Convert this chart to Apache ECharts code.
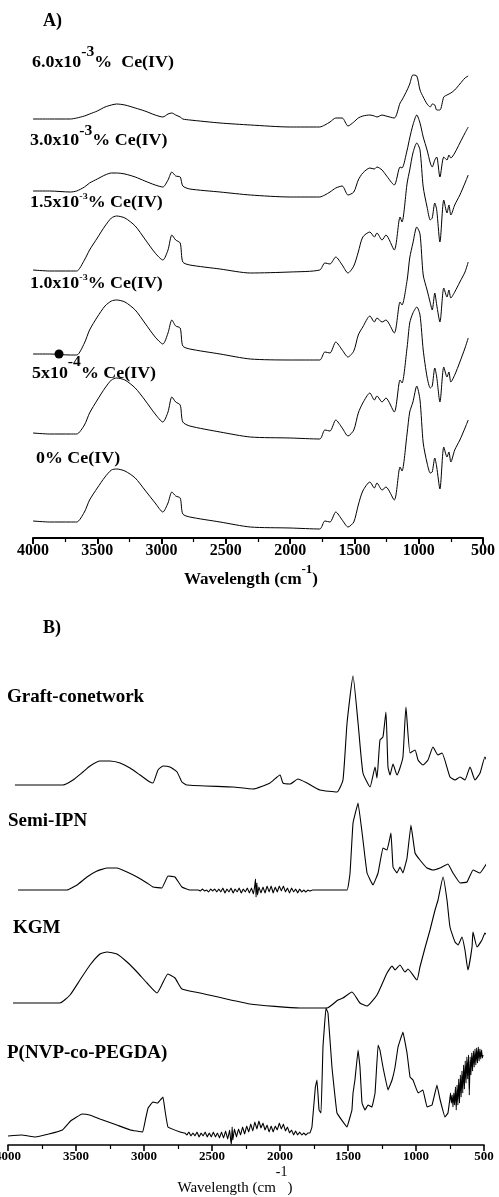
<!DOCTYPE html>
<html>
<head>
<meta charset="utf-8">
<script src="https://cdn.jsdelivr.net/npm/echarts@6/dist/echarts.min.js"></script>
<style>
  html, body { margin: 0; padding: 0; background: #fff; }
  #chart { width: 499px; height: 1197px; }
</style>
</head>
<body>
<div id="chart"></div>
<script>
// ---- panel A : FTIR spectra vs Ce(IV) content (stacked, arbitrary units) ----
var waveA = [4000,3870,3710,3660,3600,3560,3500,3440,3390,3350,3285,3205,3130,3050,2990,2950,2920,2890,2855,2835,
  2780,2545,2310,2000,1770,1730,1690,1645,1595,1550,1505,1470,1435,1380,1345,1325,1285,1255,1190,1145,
  1130,1090,1070,1045,1015,990,965,935,910,895,875,860,835,805,780,765,750,720,680,640,615];
var ce0 = [17,16,16,16,26,38,50,61,68,69,67,60,48,35,26,35,46,42,40,24,
  21,16,11,10,9,17,16,26,18,11,16,33,47,56,50,55,48,51,38,71,
  67,105,126,136,152,138,95,75,65,66,80,71,49,91,81,86,76,88,98,110,118];
var ce5e4 = [105,104,104,104,113,125,138,150,158,160,158,150,138,124,116,126,141,136,133,116,
  112,106,101,100,99,108,107,118,110,102,108,125,135,145,138,142,136,140,126,158,
  155,191,215,225,231,223,188,161,150,152,170,161,136,171,161,166,156,163,176,190,200];
var ce1e3 = [184,184,183,183,195,208,221,232,237,238,236,228,215,201,194,205,218,212,210,192,
  189,184,179,178,178,186,185,196,188,181,187,203,211,222,216,220,216,218,205,236,
  233,258,280,295,311,304,263,248,235,228,245,233,216,250,241,248,240,246,256,266,276];
var ce15e3 = [268,267,267,267,278,288,300,312,320,322,320,312,299,285,278,288,303,298,295,276,
  273,269,265,266,268,275,274,281,273,265,272,286,301,306,301,305,298,303,288,321,
  316,355,368,385,395,388,351,331,318,320,335,328,296,338,325,333,323,333,343,355,363];
var ce3e3 = [347,347,346,347,351,355,359,363,365,365,364,361,357,353,351,358,366,362,361,352,
  349,346,343,341,341,343,346,350,352,343,346,358,365,370,369,371,368,363,353,371,
  370,388,400,413,423,415,401,388,375,371,378,381,361,381,378,383,380,385,395,405,411];
var ce6e3 = [419,419,419,420,422,424,427,431,433,434,433,430,427,423,421,424,425,423,421,419,
  418,415,413,411,411,413,416,420,420,412,416,420,422,423,422,421,423,422,420,435,
  438,448,454,463,462,448,441,434,431,434,433,428,428,441,443,444,445,448,454,460,462];

// ---- panel B : FTIR spectra of the materials ----
var graftWave = [3949,3596,3522,3449,3397,3324,3250,3176,3103,3029,2956,2934,2897,2860,2809,2757,2721,2684,2346,2199,
  2074,2000,1978,1926,1868,1801,1706,1581,1537,1507,1463,1426,1390,1338,1301,1287,1265,1243,1221,1206,
  1191,1169,1140,1118,1096,1074,1044,1007,985,949,912,875,838,809,750,713,676,640,603,566,529,493,471];
var graftVal = [360,360,365,373,379,384,384,382,377,370,363,362,375,379,378,373,363,360,358,356,
  362,370,362,361,366,362,355,353,365,422,469,422,372,358,378,367,405,408,433,378,
  370,381,370,377,388,438,392,395,385,380,385,398,390,392,368,365,368,365,378,365,372,388,382];

var semiWave = [3926,3566,3493,3419,3346,3272,3199,3125,3051,2978,2934,2868,2824,2772,2721,2662,
  2600,2585,2570,2555,2540,2525,2510,2495,2480,2465,2450,2435,2420,2405,2390,2375,2360,2345,2330,2315,
  2300,2285,2270,2255,2240,2225,2210,2195,2185,2180,2176,2170,2165,2155,2140,2125,2110,2095,2080,2065,
  2050,2035,2020,2005,1990,1975,1960,1945,1930,1915,1900,1885,1870,1855,1840,1825,1810,1795,1780,1760,
  1507,1485,1463,1426,1390,1360,1316,1279,1243,1213,1184,1169,1140,1118,1096,1066,1037,1007,971,919,
  875,824,765,728,676,625,581,529,478,434,397];
var semiVal = [255,255,260,268,274,277,277,273,268,262,258,257,269,268,258,255,
  255,254,256,254,255,253,256,254,256,253,256,253,257,252,256,253,257,252,256,253,
  257,252,256,253,257,252,257,251,260,266,248,262,250,258,252,258,252,259,253,259,
  252,258,253,259,254,259,253,257,252,257,253,256,252,256,253,255,253,255,254,255,
  255,272,322,342,305,272,260,272,297,295,312,278,272,278,272,287,320,292,285,277,
  275,277,281,272,262,263,275,272,282,292,305];

var kgmWave = [3963,3618,3544,3471,3397,3324,3272,3199,3125,3051,2978,2904,2824,2772,2721,2588,2221,1853,1654,1574,
  1537,1471,1412,1360,1287,1213,1176,1154,1118,1081,1059,993,971,934,897,860,838,801,772,750,
  713,691,662,640,618,588,581,551,515,493,471];
var kgmVal = [142,142,150,165,180,191,193,191,183,173,162,152,171,167,156,152,141,137,137,145,
  147,153,142,139,150,172,179,175,180,173,176,165,178,197,215,235,245,268,245,218,
  203,200,208,195,175,198,213,198,205,212,208];

var pnvpWave = [4000,3900,3800,3700,3600,3540,3456,3400,3324,3200,3100,3010,2990,2970,2935,2900,2880,2860,2846,2824,
  2735,2700,2685,2670,2655,2640,2625,2610,2595,2580,2565,2550,2535,2520,2505,2490,2475,2460,2445,2430,
  2415,2400,2385,2370,2362,2357,2352,2347,2335,2320,2305,2290,2275,2260,2245,2230,2215,2200,2185,2170,
  2155,2140,2125,2110,2095,2080,2065,2050,2035,2020,2005,1990,1975,1960,1945,1930,1915,1900,1885,1870,
  1855,1840,1825,1810,1795,1780,1765,1740,1728,1713,1698,1684,1662,1647,1618,1581,1507,1485,1471,1463,
  1449,1426,1412,1397,1375,1353,1324,1301,1279,1265,1243,1206,1176,1154,1132,1096,1066,1044,1022,985,
  949,919,882,846,824,787,765,752,746,740,734,728,722,716,710,704,698,692,686,680,
  674,668,662,656,650,644,638,632,626,620,614,608,602,596,590,584,578,572,566,560,
  554,548,542,536,530,524,518,512,507];
var pnvpVal = [9,10,8,11,15,24,31,30,26,20,15,13,25,37,43,42,45,48,35,18,
  13,12,10,13,9,12,9,13,8,12,9,13,8,12,8,13,8,12,7,13,
  7,14,6,15,4,1,18,5,16,8,16,10,18,11,19,13,21,14,23,16,
  24,17,22,15,20,13,19,13,19,15,22,16,21,14,18,12,15,10,14,10,
  13,10,12,10,12,12,18,58,65,35,32,98,137,132,78,32,18,28,35,52,
  65,95,78,42,35,40,38,52,100,95,78,55,65,78,98,113,92,68,65,52,
  55,38,40,60,46,28,32,45,52,42,50,38,52,40,58,35,60,40,66,42,
  70,48,74,52,80,56,84,62,88,66,90,50,88,70,92,74,94,78,96,80,
  97,82,98,84,96,86,95,87,90];

var xTicks = { min: 500, max: 4000, interval: 500 };

function pairs(w, v) {
  var out = [];
  for (var i = 0; i < w.length; i++) out.push([w[i], v[i]]);
  return out;
}

var serif = '"Liberation Serif", "Times New Roman", serif';

function spec(w, v, grid, width, sm) {
  return {
    type: 'line',
    xAxisIndex: grid, yAxisIndex: grid,
    data: pairs(w, v),
    symbol: 'none',
    smooth: sm,
    clip: false,
    lineStyle: { color: '#000', width: width },
    silent: true
  };
}

function xAx(grid, fs, lw) {
  return {
    gridIndex: grid, type: 'value', inverse: true,
    min: xTicks.min, max: xTicks.max, interval: xTicks.interval,
    axisLine: { onZero: false, lineStyle: { color: '#000', width: lw } },
    axisTick: { inside: false, length: 6, lineStyle: { color: '#000', width: lw } },
    minorTick: { show: true, splitNumber: 2, length: 4, lineStyle: { color: '#000', width: 1.2 } },
    splitLine: { show: false },
    axisLabel: {
      color: '#000', fontFamily: serif, fontWeight: 'bold', fontSize: fs, margin: 5,
      formatter: function (v) { return String(v); }
    }
  };
}

// label with raised superscript: parts = [before, sup, after]
function supLabel(x, cy, parts, fs, supFs, raise, bold, align, sx) {
  var h = supFs, L = 2 * raise + h;
  var w = bold ? 'bold' : 'normal';
  return {
    type: 'text', x: x, y: cy - L / 2, scaleX: sx || 1,
    style: {
      text: '{b|' + parts[0] + '}{s|' + parts[1] + '}{b|' + parts[2] + '}',
      align: align || 'left', verticalAlign: 'top',
      rich: {
        b: { fontFamily: serif, fontWeight: w, fontSize: fs, lineHeight: L, fill: '#000', color: '#000' },
        s: { fontFamily: serif, fontWeight: w, fontSize: supFs, lineHeight: h, verticalAlign: 'top', fill: '#000', color: '#000' }
      }
    }
  };
}

function plainLabel(x, cy, txt, fs, sx) {
  return {
    type: 'text', x: x, y: cy - 12, scaleX: sx || 1,
    style: { text: txt, fontFamily: serif, fontWeight: 'bold', fontSize: fs, lineHeight: 24, verticalAlign: 'top', fill: '#000' }
  };
}

var chart = echarts.init(document.getElementById('chart'), null, { renderer: 'canvas' });
chart.setOption({
  animation: false,
  backgroundColor: '#fff',
  grid: [
    { left: 33, right: 16, top: 40, bottom: 659, containLabel: false, outerBoundsMode: 'none' },
    { left: 8, right: 15, top: 640, bottom: 52, containLabel: false, outerBoundsMode: 'none' }
  ],
  xAxis: [xAx(0, 16, 2), xAx(1, 13, 1.6)],
  yAxis: [
    { gridIndex: 0, type: 'value', min: 0, max: 498, show: false },
    { gridIndex: 1, type: 'value', min: 0, max: 505, show: false }
  ],
  series: [
    spec(waveA, ce6e3, 0, 1, 0.25), spec(waveA, ce3e3, 0, 1, 0.25), spec(waveA, ce15e3, 0, 1, 0.25),
    spec(waveA, ce1e3, 0, 1, 0.25), spec(waveA, ce5e4, 0, 1, 0.25), spec(waveA, ce0, 0, 1, 0.25),
    spec(graftWave, graftVal, 1, 1.1, 0.15), spec(semiWave, semiVal, 1, 1.1, 0.08),
    spec(kgmWave, kgmVal, 1, 1.1, 0.15), spec(pnvpWave, pnvpVal, 1, 1.1, 0.06)
  ],
  graphic: [
    plainLabel(43, 21, 'A)', 18),
    supLabel(32, 63, ['6.0x10', '-3', '%  Ce(IV)'], 16, 14, 11, true, 'left', 1.12),
    supLabel(30, 141, ['3.0x10', '-3', '% Ce(IV)'], 16, 14, 10, true, 'left', 1.12),
    supLabel(30, 203, ['1.5x10', '-3', '% Ce(IV)'], 16, 9, 6, true, 'left', 1.12),
    supLabel(30, 284, ['1.0x10', '-3', '% Ce(IV)'], 16, 9, 6, true, 'left', 1.12),
    supLabel(32, 374, ['5x10', '-4', '% Ce(IV)'], 16, 14, 12, true, 'left', 1.12),
    plainLabel(36, 459, '0% Ce(IV)', 16, 1.12),
    { type: 'circle', shape: { cx: 59, cy: 354, r: 4.5 }, style: { fill: '#000' } },
    supLabel(251, 580, ['Wavelength (cm', '-1', ')'], 17, 13, 10, true, 'center'),
    plainLabel(43, 628, 'B)', 18),
    plainLabel(7, 697, 'Graft-conetwork', 19),
    plainLabel(8, 821, 'Semi-IPN', 19),
    plainLabel(13, 928, 'KGM', 19),
    plainLabel(7, 1053, 'P(NVP-co-PEGDA)', 19),
    supLabel(235, 1188, ['Wavelength (cm', '-1', ')'], 15, 14, 16, false, 'center')
  ]
});
</script>
</body>
</html>
